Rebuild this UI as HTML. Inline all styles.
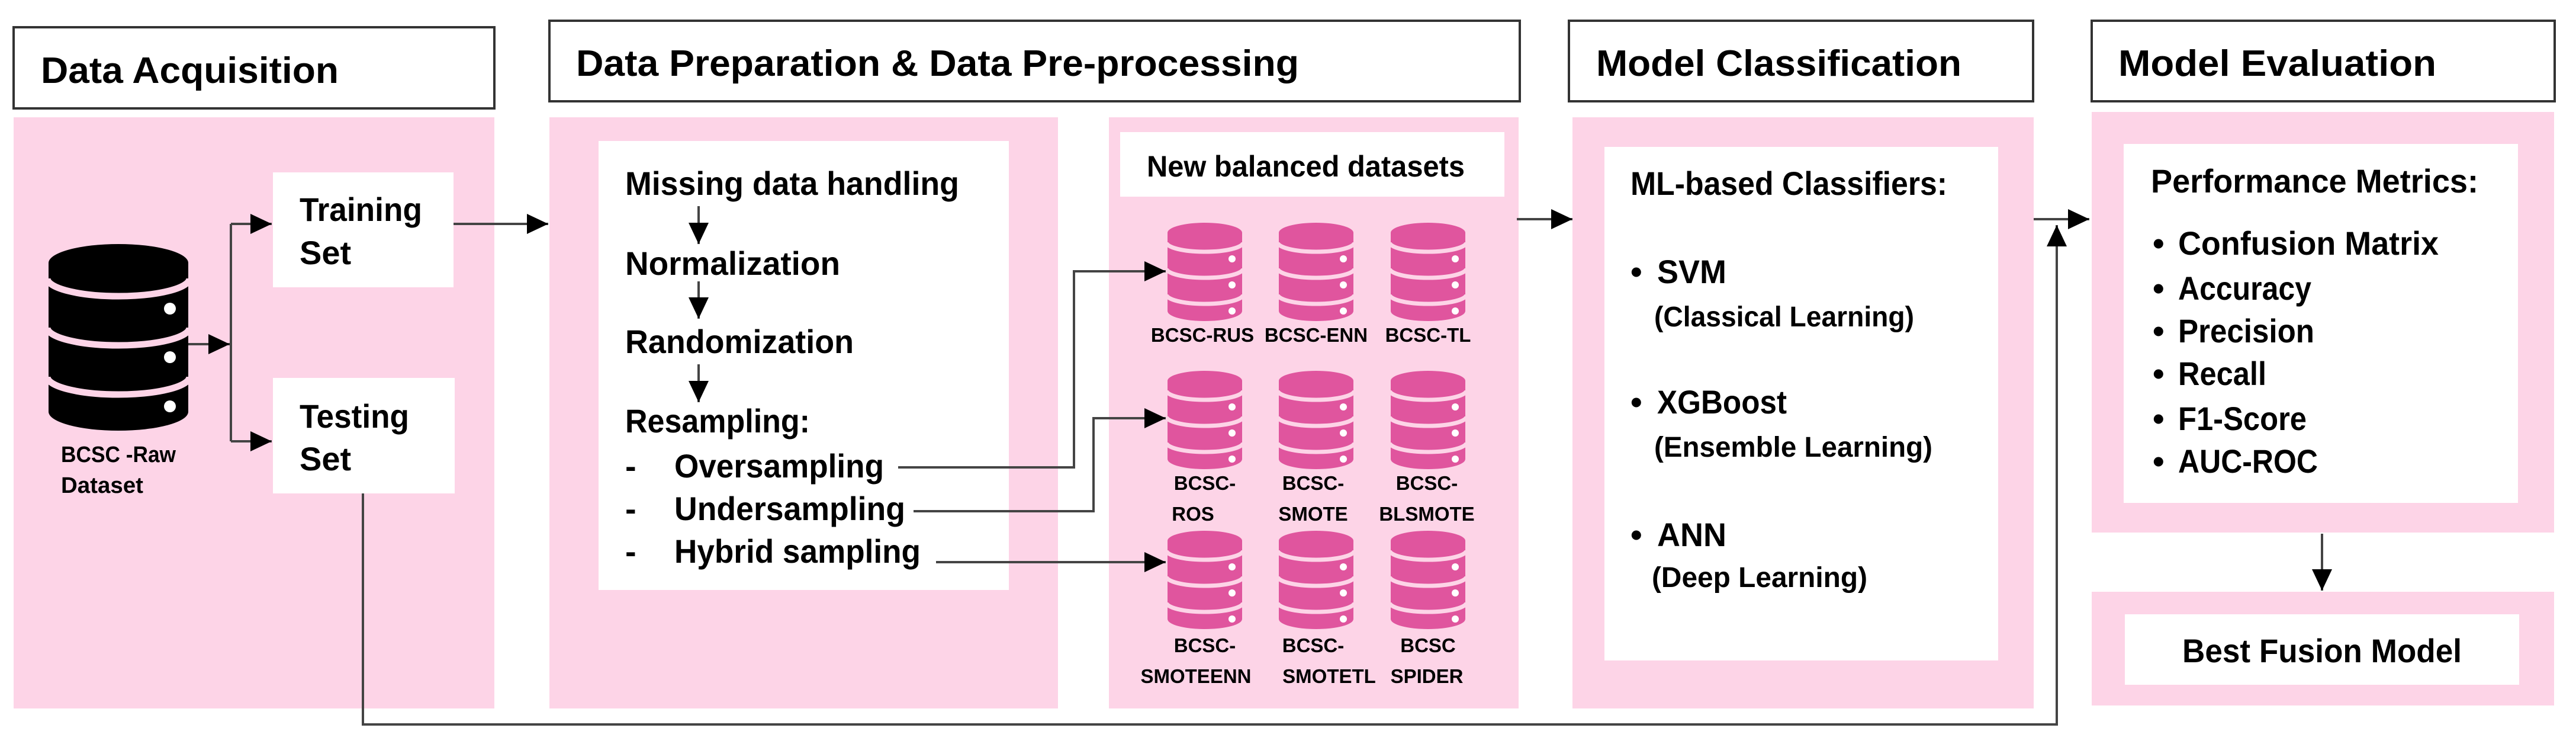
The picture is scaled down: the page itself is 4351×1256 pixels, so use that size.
<!DOCTYPE html>
<html><head><meta charset="utf-8"><style>
html,body{margin:0;padding:0;background:#fff}
svg{display:block}
text{font-family:"Liberation Sans",sans-serif;font-weight:bold;fill:#000}
</style></head><body>
<svg width="4351" height="1256" viewBox="0 0 4351 1256" xmlns="http://www.w3.org/2000/svg">
<defs>
<marker id="ah" markerWidth="36" markerHeight="34" refX="36" refY="17" orient="auto" markerUnits="userSpaceOnUse">
<path d="M0,0 L36,17 L0,34 z" fill="#000"/>
</marker>
<g id="pdb">
<g fill="#e0559e"><ellipse cx="63" cy="17" rx="63" ry="17"/><rect x="0" y="17" width="126" height="132"/><ellipse cx="63" cy="149" rx="63" ry="17"/></g>
<g fill="none" stroke="#fdd4e7" stroke-width="7">
<path d="M-2,33 A65,16 0 0 0 128,33"/>
<path d="M-2,77 A65,16 0 0 0 128,77"/>
<path d="M-2,121 A65,16 0 0 0 128,121"/>
</g>
<g fill="#fff"><circle cx="109" cy="61" r="6"/><circle cx="109" cy="105" r="6"/><circle cx="109" cy="149" r="6"/></g>
</g>
</defs>

<!-- headers -->
<g fill="#fff" stroke="#333" stroke-width="4">
<rect x="23" y="46" width="812" height="137"/>
<rect x="928" y="35" width="1639" height="136"/>
<rect x="2650" y="35" width="784" height="136"/>
<rect x="3533" y="35" width="782" height="136"/>
</g>
<text x="69" y="140" font-size="62" textLength="503" lengthAdjust="spacingAndGlyphs">Data Acquisition</text>
<text x="973" y="128" font-size="62" textLength="1221" lengthAdjust="spacingAndGlyphs">Data Preparation &amp; Data Pre-processing</text>
<text x="2696" y="128" font-size="62" textLength="617" lengthAdjust="spacingAndGlyphs">Model Classification</text>
<text x="3578" y="128" font-size="62" textLength="537" lengthAdjust="spacingAndGlyphs">Model Evaluation</text>

<!-- pink panels -->
<g fill="#fdd4e7">
<rect x="23" y="198" width="812" height="998"/>
<rect x="928" y="198" width="859" height="998"/>
<rect x="1873" y="198" width="692" height="998"/>
<rect x="2656" y="198" width="779" height="998"/>
<rect x="3533" y="189" width="781" height="710"/>
<rect x="3533" y="999" width="781" height="192"/>
</g>
<!-- white boxes -->
<g fill="#fff">
<rect x="461" y="291" width="305" height="194"/>
<rect x="461" y="638" width="307" height="195"/>
<rect x="1011" y="238" width="693" height="758"/>
<rect x="1892" y="223" width="649" height="109"/>
<rect x="2710" y="248" width="665" height="867"/>
<rect x="3587" y="243" width="666" height="606"/>
<rect x="3589" y="1037" width="666" height="119"/>
</g>

<!-- raw db icon -->
<g transform="translate(82,412)">
<g fill="#000"><ellipse cx="118" cy="32" rx="118" ry="32"/><rect x="0" y="32" width="236" height="251"/><ellipse cx="118" cy="283" rx="118" ry="32"/></g>
<g fill="none" stroke="#fdd4e7" stroke-width="11">
<path d="M-2,58 A120,30 0 0 0 238,58"/>
<path d="M-2,141 A120,30 0 0 0 238,141"/>
<path d="M-2,224 A120,30 0 0 0 238,224"/>
</g>
<g fill="#fff"><circle cx="205" cy="109" r="10"/><circle cx="205" cy="191" r="10"/><circle cx="205" cy="274" r="10"/></g>
</g>
<text x="103" y="780" font-size="38" textLength="194" lengthAdjust="spacingAndGlyphs">BCSC -Raw</text>
<text x="103" y="832" font-size="38" textLength="139" lengthAdjust="spacingAndGlyphs">Dataset</text>

<!-- pink db icons -->
<use href="#pdb" transform="translate(1972,376)"/>
<use href="#pdb" transform="translate(2160,376)"/>
<use href="#pdb" transform="translate(2349,376)"/>
<use href="#pdb" transform="translate(1972,626)"/>
<use href="#pdb" transform="translate(2160,626)"/>
<use href="#pdb" transform="translate(2349,626)"/>
<use href="#pdb" transform="translate(1972,896)"/>
<use href="#pdb" transform="translate(2160,896)"/>
<use href="#pdb" transform="translate(2349,896)"/>
<g font-size="33" text-anchor="middle">
<text x="2031" y="577">BCSC-RUS</text>
<text x="2223" y="577">BCSC-ENN</text>
<text x="2412" y="577">BCSC-TL</text>
<text x="2035" y="827">BCSC-</text><text x="2015" y="879">ROS</text>
<text x="2218" y="827">BCSC-</text><text x="2218" y="879">SMOTE</text>
<text x="2410" y="827">BCSC-</text><text x="2410" y="879">BLSMOTE</text>
<text x="2035" y="1101">BCSC-</text><text x="2020" y="1153">SMOTEENN</text>
<text x="2218" y="1101">BCSC-</text><text x="2245" y="1153">SMOTETL</text>
<text x="2412" y="1101">BCSC</text><text x="2410" y="1153">SPIDER</text>
</g>
<text x="1937" y="298" font-size="50" textLength="537" lengthAdjust="spacingAndGlyphs">New balanced datasets</text>

<!-- texts -->
<g font-size="56">
<text x="506" y="373" textLength="207" lengthAdjust="spacingAndGlyphs">Training</text>
<text x="506" y="446">Set</text>
<text x="506" y="722" textLength="185" lengthAdjust="spacingAndGlyphs">Testing</text>
<text x="506" y="794">Set</text>
</g>
<g font-size="56">
<text x="1056" y="329" textLength="564" lengthAdjust="spacingAndGlyphs">Missing data handling</text>
<text x="1056" y="464" textLength="363" lengthAdjust="spacingAndGlyphs">Normalization</text>
<text x="1056" y="596" textLength="386" lengthAdjust="spacingAndGlyphs">Randomization</text>
<text x="1056" y="730" textLength="312" lengthAdjust="spacingAndGlyphs">Resampling:</text>
<text x="1056" y="806">-</text><text x="1139" y="806" textLength="354" lengthAdjust="spacingAndGlyphs">Oversampling</text>
<text x="1056" y="878">-</text><text x="1139" y="878" textLength="390" lengthAdjust="spacingAndGlyphs">Undersampling</text>
<text x="1056" y="950">-</text><text x="1139" y="950" textLength="416" lengthAdjust="spacingAndGlyphs">Hybrid sampling</text>
</g>
<g font-size="56">
<text x="2754" y="329" textLength="535" lengthAdjust="spacingAndGlyphs">ML-based Classifiers:</text>
<text x="2754" y="478">•</text><text x="2799" y="478" textLength="117" lengthAdjust="spacingAndGlyphs">SVM</text>
<text x="2754" y="698">•</text><text x="2799" y="698" textLength="219" lengthAdjust="spacingAndGlyphs">XGBoost</text>
<text x="2754" y="922">•</text><text x="2799" y="922" textLength="117" lengthAdjust="spacingAndGlyphs">ANN</text>
</g>
<g font-size="48">
<text x="2794" y="551" textLength="439" lengthAdjust="spacingAndGlyphs">(Classical Learning)</text>
<text x="2794" y="771" textLength="470" lengthAdjust="spacingAndGlyphs">(Ensemble Learning)</text>
<text x="2790" y="991" textLength="364" lengthAdjust="spacingAndGlyphs">(Deep Learning)</text>
</g>
<g font-size="56">
<text x="3633" y="325" textLength="553" lengthAdjust="spacingAndGlyphs">Performance Metrics:</text>
<text x="3636" y="430">•</text><text x="3679" y="430" textLength="440" lengthAdjust="spacingAndGlyphs">Confusion Matrix</text>
<text x="3636" y="506">•</text><text x="3679" y="506" textLength="225" lengthAdjust="spacingAndGlyphs">Accuracy</text>
<text x="3636" y="578">•</text><text x="3679" y="578" textLength="230" lengthAdjust="spacingAndGlyphs">Precision</text>
<text x="3636" y="650">•</text><text x="3679" y="650" textLength="149" lengthAdjust="spacingAndGlyphs">Recall</text>
<text x="3636" y="726">•</text><text x="3679" y="726" textLength="217" lengthAdjust="spacingAndGlyphs">F1-Score</text>
<text x="3636" y="798">•</text><text x="3679" y="798" textLength="236" lengthAdjust="spacingAndGlyphs">AUC-ROC</text>
<text x="3686" y="1118" textLength="472" lengthAdjust="spacingAndGlyphs">Best Fusion Model</text>
</g>

<!-- connectors -->
<g fill="none" stroke="#444" stroke-width="4" marker-end="url(#ah)">
<path d="M318,581 L388,581"/>
<path d="M390,378 L459,378"/>
<path d="M390,745 L459,745"/>
<path d="M766,378 L926,378"/>
<path d="M1180,348 L1180,412"/>
<path d="M1180,475 L1180,538"/>
<path d="M1180,615 L1180,679"/>
<path d="M1517,789 L1814,789 L1814,458 L1969,458"/>
<path d="M1543,863 L1847,863 L1847,706 L1969,706"/>
<path d="M1581,949 L1969,949"/>
<path d="M2562,370 L2656,370"/>
<path d="M3435,370 L3529,370"/>
<path d="M613,833 L613,1223 L3474,1223 L3474,380"/>
<path d="M3922,901 L3922,997"/>
</g>
<path d="M390,378 L390,745" stroke="#444" stroke-width="4"/>
</svg>
</body></html>
